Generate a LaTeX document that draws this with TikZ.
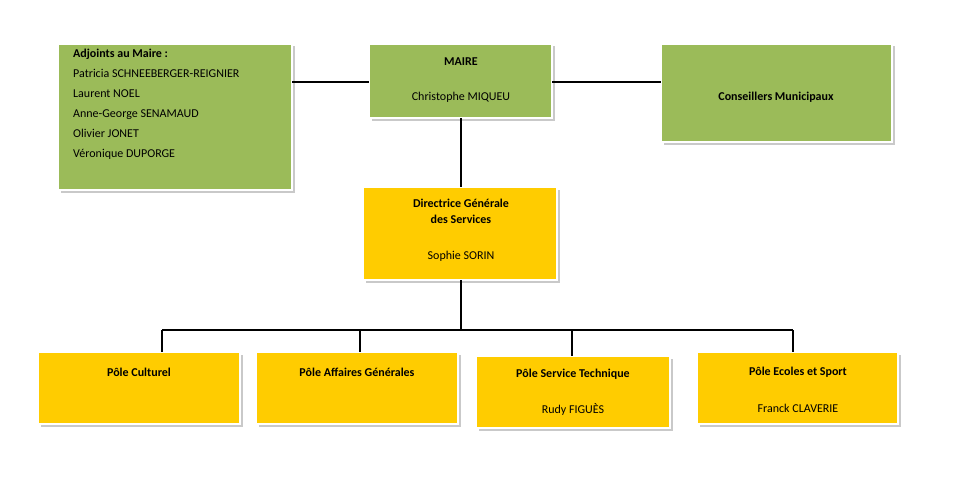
\documentclass[tikz,border=0pt]{standalone}
\usepackage{fontspec}
\setmainfont{Carlito}
\usetikzlibrary{shadows}
\definecolor{gr}{HTML}{9BBB59}
\definecolor{ye}{HTML}{FFCC00}
\begin{document}
\begin{tikzpicture}[x=1pt,y=-1pt,
 box/.style={draw=white,line width=1.8pt,drop shadow={shadow xshift=2.5pt,shadow yshift=-2.5pt,fill=black!35,opacity=.6}},
 lbl/.style={font=\fontsize{12}{16}\selectfont,inner sep=0pt,align=center},
 conn/.style={line width=2pt}]
\useasboundingbox (0,0) rectangle (956,487);
\fill[white] (0,0) rectangle (956,487);
% boxes
\path[box,fill=gr] (58,44) rectangle (292,190);
\path[box,fill=gr] (369,44) rectangle (552,118);
\path[box,fill=gr] (661,44) rectangle (892,142);
\path[box,fill=ye] (363,187) rectangle (557,280);
\path[box,fill=ye] (38,352) rectangle (240,424);
\path[box,fill=ye] (256,352) rectangle (458,424);
\path[box,fill=ye] (476,356) rectangle (670,428);
\path[box,fill=ye] (697,352) rectangle (898,424);
% anchors
\coordinate (adjR) at (292,82);
\coordinate (maiL) at (369,82);
\coordinate (maiR) at (552,82);
\coordinate (conL) at (661,82);
\coordinate (maiB) at (461,118);
\coordinate (dirT) at (461,187);
\coordinate (dirB) at (461,280);
\coordinate (bus) at (461,330);
\coordinate (b1) at (162,330);
\coordinate (b2) at (360,330);
\coordinate (b3) at (572,330);
\coordinate (b4) at (793,330);
\coordinate (p1) at (162,352);
\coordinate (p2) at (360,352);
\coordinate (p3) at (572,356);
\coordinate (p4) at (793,352);
\draw[conn] (adjR) -- (maiL);
\draw[conn] (maiR) -- (conL);
\draw[conn] (maiB) -- (dirT);
\draw[conn] (dirB) -- (bus);
\draw[conn] (b1) -- (b4);
\draw[conn] (b1) -- (p1);
\draw[conn] (b2) -- (p2);
\draw[conn] (b3) -- (p3);
\draw[conn] (b4) -- (p4);
% texts
\node[lbl,anchor=north west,align=left,font=\fontsize{12}{20}\selectfont] (adj) at (73,49)
 {\textbf{Adjoints au Maire :}\\Patricia SCHNEEBERGER-REIGNIER\\Laurent NOEL\\Anne-George SENAMAUD\\Olivier JONET\\Véronique DUPORGE};
\node[lbl,font=\bfseries\fontsize{12}{16}\selectfont] (t1) at (461,62) {MAIRE};
\node[lbl] (t2) at (461,97) {Christophe MIQUEU};
\node[lbl,font=\bfseries\fontsize{12}{16}\selectfont] (t3) at (776,97) {Conseillers Municipaux};
\node[lbl,font=\bfseries\fontsize{12}{16}\selectfont] (t4) at (461,211) {Directrice Générale\\des Services};
\node[lbl] (t5) at (461,256) {Sophie SORIN};
\node[lbl,font=\bfseries\fontsize{12}{16}\selectfont] (t6) at (139,372) {Pôle Culturel};
\node[lbl,font=\bfseries\fontsize{12}{16}\selectfont] (t7) at (357,372) {Pôle Affaires Générales};
\node[lbl,font=\bfseries\fontsize{12}{16}\selectfont] (t8) at (573,374) {Pôle Service Technique};
\node[lbl] (t9) at (573,409) {Rudy FIGUÈS};
\node[lbl,font=\bfseries\fontsize{12}{16}\selectfont] (t10) at (798,372) {Pôle Ecoles et Sport};
\node[lbl] (t11) at (798,408) {Franck CLAVERIE};
\end{tikzpicture}
\end{document}
